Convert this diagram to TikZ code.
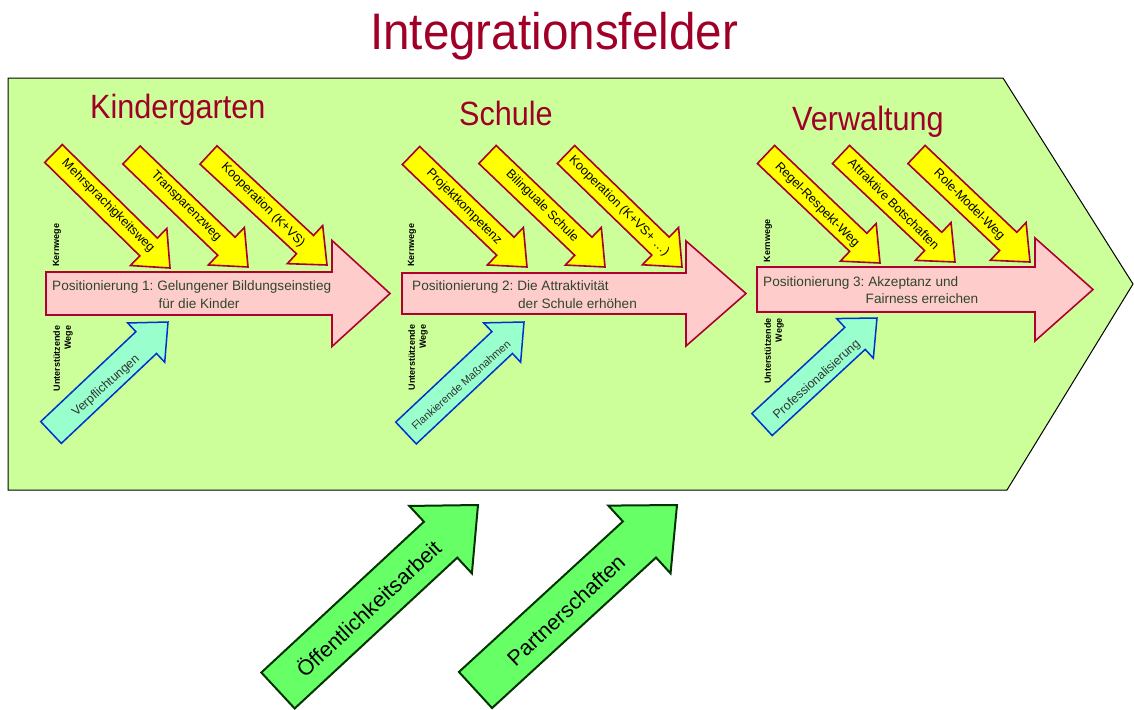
\documentclass[tikz,border=0pt]{standalone}
\usepackage{fontspec}
\setmainfont{Liberation Sans}
\usetikzlibrary{calc}
\frenchspacing

\definecolor{fieldgreen}{RGB}{204,255,153}
\definecolor{titlered}{RGB}{160,0,40}
\definecolor{wayyellow}{RGB}{255,255,0}
\definecolor{wayborder}{RGB}{168,0,40}
\definecolor{posfill}{RGB}{255,204,204}
\definecolor{posborder}{RGB}{176,0,48}
\definecolor{supfill}{RGB}{153,255,204}
\definecolor{supborder}{RGB}{0,51,204}
\definecolor{extfill}{RGB}{102,255,102}
\definecolor{extborder}{RGB}{0,51,0}
\definecolor{postext}{RGB}{46,70,46}

% thick block arrow: style, tail centre, tip, shaft half width, head half width, head length
\newcommand\fatarrow[6]{%
  \coordinate (fa-b) at ($#3!#6!#2$);
  \draw[#1] ($#2!#4!90:#3$) -- ($(fa-b)!#4!90:#3$) -- ($(fa-b)!#5!90:#3$) -- #3
    -- ($(fa-b)!#5!-90:#3$) -- ($(fa-b)!#4!-90:#3$) -- ($#2!#4!-90:#3$) -- cycle;}

\tikzset{
  field/.style={draw=black, line width=1pt, fill=fieldgreen},
  corearrow/.style={draw=wayborder, line width=1.6pt, fill=wayyellow, line join=miter},
  posarrow/.style={draw=posborder, line width=1.6pt, fill=posfill, line join=miter},
  suparrow/.style={draw=supborder, line width=1.5pt, fill=supfill, line join=miter},
  extarrow/.style={draw=extborder, line width=2pt, fill=extfill, line join=miter},
  maintitle/.style={anchor=base, inner sep=0pt, text=titlered, yscale=1.08,
    font=\fontsize{47.6}{50}\selectfont},
  areatitle/.style={anchor=base west, inner sep=0pt, text=titlered, yscale=1.1,
    font=\fontsize{30.6}{33}\selectfont},
  waytext/.style={inner sep=0pt, rotate=-45, font=\fontsize{12.6}{14}\selectfont},
  suptext/.style={inner sep=0pt, rotate=42, text=black!80, font=\fontsize{12.4}{14}\selectfont},
  postext/.style={inner sep=0pt, text=postext, font=\fontsize{13.6}{16}\selectfont},
  sidelabel/.style={inner sep=0pt, rotate=90, align=right,
    font=\fontsize{9}{11}\selectfont\bfseries},
  exttext/.style={inner sep=0pt, rotate=43, font=\fontsize{21.5}{24}\selectfont},
}

\begin{document}
\begin{tikzpicture}[x=1pt, y=-1pt]
\useasboundingbox (0,0) rectangle (1134,709);

% title
\node[maintitle] (title) at (554,50) {Integrationsfelder};

% large field
\draw[field] (8,78) -- (1003,78) -- (1133,284) -- (1007,490) -- (8,490) -- cycle;

% area titles
\node[areatitle] (kita) at (90,118) {Kindergarten};
\node[areatitle] (schule) at (459,125) {Schule};
\node[areatitle] (verw) at (792,130) {Verwaltung};

% positioning arrows
\fatarrow{posarrow}{(46,293.5)}{(390,293.5)}{21.5pt}{53pt}{58pt}
\fatarrow{posarrow}{(402,293.5)}{(746,293.5)}{20.5pt}{52.5pt}{60pt}
\fatarrow{posarrow}{(757,289.5)}{(1093,289.5)}{22.5pt}{51.5pt}{58pt}

% core ways (yellow)
\fatarrow{corearrow}{(53.5,153.5)}{(170,268)}{12.5pt}{26pt}{30pt}
\fatarrow{corearrow}{(131.5,155)}{(248,267)}{12.5pt}{26pt}{30pt}
\fatarrow{corearrow}{(208.5,155)}{(327,265)}{12.5pt}{26pt}{30pt}
\fatarrow{corearrow}{(411,155.5)}{(527,267)}{12.5pt}{26pt}{30pt}
\fatarrow{corearrow}{(487.5,154.5)}{(605,267)}{12.5pt}{26pt}{30pt}
\fatarrow{corearrow}{(566,154.5)}{(682,267)}{12.5pt}{26pt}{30pt}
\fatarrow{corearrow}{(766,154.5)}{(880,263)}{12.5pt}{26pt}{30pt}
\fatarrow{corearrow}{(841,154.5)}{(955,262)}{12.5pt}{26pt}{30pt}
\fatarrow{corearrow}{(916.5,154.5)}{(1030,262)}{12.5pt}{26pt}{30pt}

\node[waytext] (w1) at (108,206) {Mehrsprachigkeitsweg};
\node[waytext] (w2) at (186,206) {Transparenzweg};
\node[waytext] (w3) at (263,205) {Kooperation (K+VS)};
\node[waytext] (w4) at (464,207) {Projektkompetenz};
\node[waytext] (w5) at (542,206) {Bilinguale Schule};
\node[waytext] (w6) at (619,206) {Kooperation (K+VS+ \dots)};
\node[waytext] (w7) at (817,205) {Regel-Respekt-Weg};
\node[waytext] (w8) at (894,204) {Attraktive Botschaften};
\node[waytext] (w9) at (969,205) {Role-Model-Weg};

% supporting ways (aqua)
\fatarrow{suparrow}{(51,432.5)}{(168,322)}{15pt}{27pt}{30pt}
\fatarrow{suparrow}{(406,433)}{(524,322)}{15pt}{27pt}{30pt}
\fatarrow{suparrow}{(762,424.5)}{(877,318)}{15pt}{27pt}{30pt}

\node[suptext] (s1) at (106,386) {Verpflichtungen};
\node[suptext, font=\fontsize{11}{13}\selectfont] (s2) at (461,385) {Flankierende Maßnahmen};
\node[suptext] (s3) at (817,380) {Professionalisierung};

% positioning texts
\node[postext, anchor=base west] (p1a) at (52,290) {Positionierung 1: Gelungener Bildungseinstieg};
\node[postext, anchor=base] (p1b) at (199,308) {für die Kinder};
\node[postext, anchor=base west] (p2a) at (412,290) {Positionierung 2: Die Attraktivität};
\node[postext, anchor=base] (p2b) at (577.5,308) {der Schule erhöhen};
\node[postext, anchor=base west] (p3a) at (763,286) {Positionierung 3: Akzeptanz und};
\node[postext, anchor=base] (p3b) at (922,303) {Fairness erreichen};

% side labels
\node[sidelabel] (k1) at (57,245) {Kernwege};
\node[sidelabel] (k2) at (412,245) {Kernwege};
\node[sidelabel] (k3) at (768,240.5) {Kernwege};
\node[sidelabel] (u1) at (63,358.5) {Unterstützende\\Wege};
\node[sidelabel] (u2) at (418,357.5) {Unterstützende\\Wege};
\node[sidelabel] (u3) at (774,351) {Unterstützende\\Wege};

% external fields (green)
\fatarrow{extarrow}{(278,690.5)}{(478,505)}{24.5pt}{46pt}{51pt}
\fatarrow{extarrow}{(475.5,690)}{(677,505)}{24.5pt}{46pt}{51pt}

\node[exttext] (e1) at (368,608) {Öffentlichkeitsarbeit};
\node[exttext] (e2) at (566,610) {Partnerschaften};
\end{tikzpicture}
\end{document}
